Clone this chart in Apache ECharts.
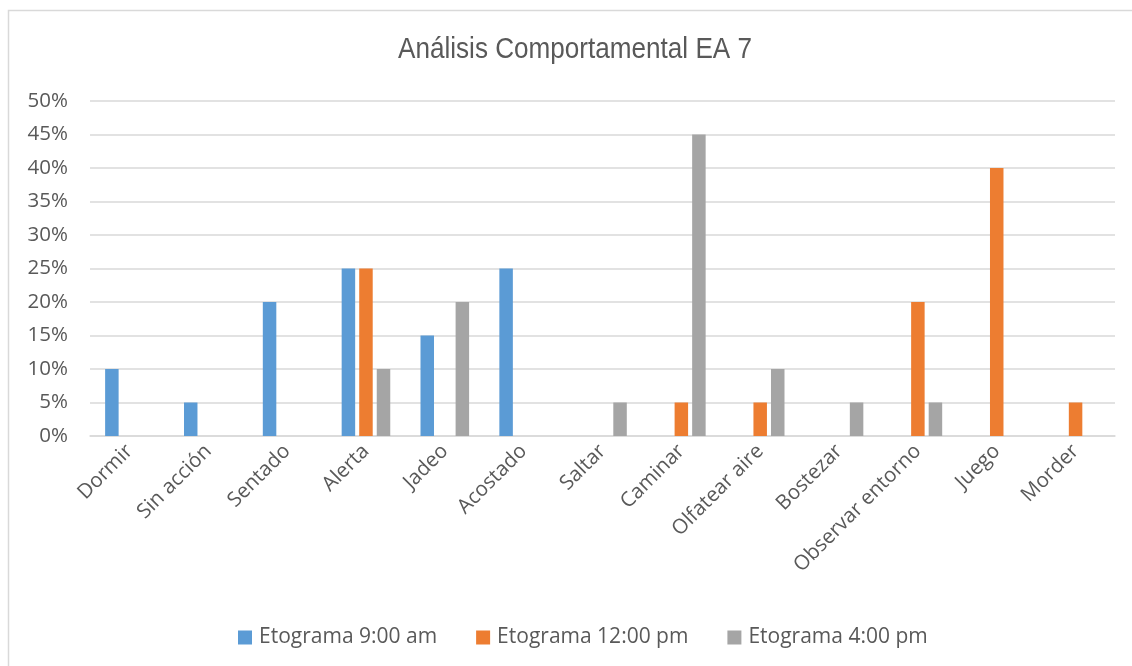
<!DOCTYPE html>
<html>
<head>
<meta charset="utf-8">
<script src="https://cdn.jsdelivr.net/npm/echarts@6/dist/echarts.min.js"></script>
<style>html,body{margin:0;padding:0;background:#fff}#c{width:1132px;height:666px}</style>
</head>
<body>
<div id="c"></div>
<script>
const categories = ["Dormir","Sin acción","Sentado","Alerta","Jadeo","Acostado","Saltar","Caminar","Olfatear aire","Bostezar","Observar entorno","Juego","Morder"];
const seriesNames = ["Etograma 9:00 am","Etograma 12:00 pm","Etograma 4:00 pm"];
const am9  = [10, 5, 20, 25, 15, 25, 0, 0, 0, 0, 0, 0, 0];
const pm12 = [0, 0, 0, 25, 0, 0, 0, 5, 5, 0, 20, 40, 5];
const pm4  = [0, 0, 0, 10, 20, 0, 5, 45, 10, 5, 5, 0, 0];
const titleText = 'Análisis Comportamental EA 7';
const colors = ["#5B9BD5","#ED7D31","#A5A5A5"];

const chart = echarts.init(document.getElementById('c'));
const txt = '#595959';
const font = '"Open Sans", "Noto Sans", sans-serif';
const mk = (name, data, i) => ({
  name, type: 'bar', data, barWidth: 13.5, barGap: '30%',
  itemStyle: { color: colors[i] }
});
chart.setOption({
  animation: false,
  graphic: [
    { type: 'rect', shape: { x: 8.5, y: 10.5, width: 1300, height: 800 },
      style: { fill: 'none', stroke: '#D9D9D9', lineWidth: 1.5 }, silent: true },
    { type: 'text', x: 575, y: 50, scaleX: 0.9, originX: 0, originY: 0,
      style: { text: titleText, fill: txt, fontSize: 29, fontFamily: '"Liberation Sans", Arial, sans-serif',
        textAlign: 'center', textVerticalAlign: 'middle' } }
  ],
  legend: { top: 622, left: 233, itemWidth: 14, itemHeight: 14, itemGap: 39,
    icon: 'rect', textStyle: { fontFamily: font, fontSize: 21, color: txt, padding: [0, 0, 0, 2] } },
  grid: { left: 90, right: 17, top: 101, bottom: 230 },
  xAxis: { type: 'category', data: categories,
    axisLine: { lineStyle: { color: '#D9D9D9', width: 1.5 } }, axisTick: { show: false },
    axisLabel: { rotate: 45, interval: 0, margin: 12, fontFamily: font, fontSize: 20.5, color: txt } },
  yAxis: { type: 'value', min: 0, max: 50, interval: 5,
    axisLine: { show: false }, axisTick: { show: false },
    splitLine: { lineStyle: { color: '#D9D9D9', width: 1.5 } },
    axisLabel: { formatter: '{value}%', margin: 22, fontFamily: font, fontSize: 20.5, color: txt } },
  series: [mk(seriesNames[0], am9, 0), mk(seriesNames[1], pm12, 1), mk(seriesNames[2], pm4, 2)]
});
</script>
</body>
</html>
